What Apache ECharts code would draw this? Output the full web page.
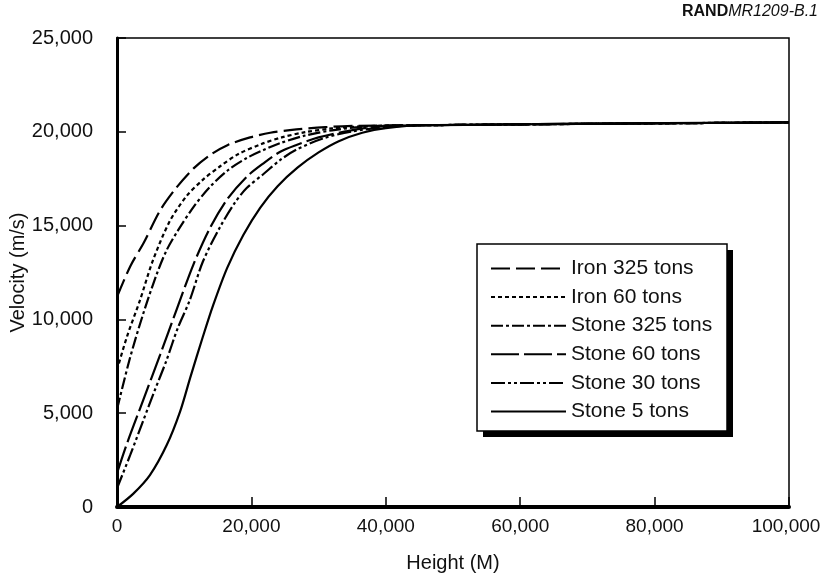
<!DOCTYPE html>
<html>
<head>
<meta charset="utf-8">
<script src="https://cdn.jsdelivr.net/npm/echarts@6/dist/echarts.min.js"></script>
<style>
  html, body { margin: 0; padding: 0; background: #fff; }
  #chart { width: 821px; height: 577px; }
</style>
</head>
<body>
<div id="chart"></div>
<script>
// Velocity vs. height for meteoroids of different composition and mass.
// Each series is a list of [height (m), velocity (m/s)] pairs.
const ironHeavy = [
  [0, 11200], [2000, 12850], [4000, 14100], [6400, 15800], [8900, 17050],
  [11400, 18050], [13800, 18750], [16500, 19300], [19800, 19700], [22800, 19950],
  [26700, 20130], [31000, 20250], [36000, 20320], [45000, 20350], [100000, 20500]
];
const ironLight = [
  [0, 7300], [1500, 9100], [3400, 11000], [5300, 13100], [7800, 15200],
  [10300, 16550], [12800, 17450], [15300, 18150], [18000, 18800], [21500, 19350],
  [24500, 19700], [28000, 19980], [32000, 20180], [37000, 20300], [45000, 20350],
  [100000, 20500]
];
const stoneHeavy = [
  [0, 5200], [1900, 7900], [3900, 10300], [5900, 12400], [7400, 13700],
  [9000, 14700], [11400, 16000], [13800, 17050], [16500, 17950], [19300, 18600],
  [21800, 19030], [24300, 19400], [28000, 19800], [32000, 20080], [37000, 20280],
  [45000, 20350], [100000, 20500]
];
const stoneMedium = [
  [0, 1800], [1500, 3400], [3900, 5700], [6400, 8100], [8900, 10550],
  [11400, 12950], [13800, 14850], [16400, 16400], [19300, 17600], [21800, 18320],
  [24300, 18940], [26700, 19300], [30000, 19700], [34000, 20020], [38000, 20250],
  [45000, 20350], [100000, 20500]
];
const stoneSmall = [
  [0, 1000], [2000, 2800], [3900, 4600], [5600, 6200], [7400, 7850],
  [9000, 9500], [10800, 11000], [12800, 13100], [15300, 14900], [17500, 16200],
  [19300, 17000], [21800, 17750], [24300, 18500], [26700, 19050], [30700, 19650],
  [35000, 20020], [40000, 20250], [46000, 20350], [100000, 20500]
];
const stoneTiny = [
  [0, 0], [2400, 700], [4900, 1700], [7400, 3300], [9400, 5100],
  [10900, 6900], [12800, 9100], [14300, 10750], [16400, 12750], [18800, 14500],
  [21300, 15950], [23900, 17100], [26900, 18100], [30000, 18900], [33000, 19500],
  [36500, 19950], [40000, 20200], [46000, 20350], [100000, 20500]
];

const seriesNames = [
  'Iron 325 tons', 'Iron 60 tons', 'Stone 325 tons',
  'Stone 60 tons', 'Stone 30 tons', 'Stone 5 tons'
];
const seriesData = [ironHeavy, ironLight, stoneHeavy, stoneMedium, stoneSmall, stoneTiny];
// dash patterns: long dash, dotted, dash-dot, longer dash, dash-dot-dot, solid
const dashPatterns = [
  [19, 6], [4, 3], [12, 3, 3, 3], [28, 5], [14, 3, 3, 3, 3, 3], 'solid'
];

const xTicks = { min: 0, max: 100000, step: 20000 };
const yTicks = { min: 0, max: 25000, step: 5000 };

const fmt = v => Number(v).toLocaleString('en-US');
// the last height label is nudged left so it stays inside the canvas
const fmtX = v => (v === xTicks.max ? '{edge|' + fmt(v) + '}' : fmt(v));
const FONT = 'Liberation Sans, Arial, Helvetica, sans-serif';
const INK = '#111';

// legend frame with a hard drop shadow
const LEG = { x: 477, y: 244, w: 250, h: 187, shadow: 6 };

const chart = echarts.init(document.getElementById('chart'), null, { renderer: 'canvas' });

chart.setOption({
  animation: false,
  backgroundColor: '#fff',
  textStyle: { fontFamily: FONT, color: INK },
  graphic: [
    {
      type: 'text',
      right: 3,
      top: 4,
      style: {
        text: '{a|RAND}{b|MR1209-B.1}',
        rich: {
          a: { fontFamily: FONT, fontSize: 16, fontWeight: 'bold', fill: INK },
          b: { fontFamily: FONT, fontSize: 16, fontStyle: 'italic', fill: INK }
        }
      }
    },
    {
      type: 'rect', z: 3,
      shape: { x: LEG.x + LEG.shadow, y: LEG.y + LEG.shadow, width: LEG.w, height: LEG.h },
      style: { fill: '#000' }
    },
    {
      type: 'rect', z: 3,
      shape: { x: LEG.x, y: LEG.y, width: LEG.w, height: LEG.h },
      style: { fill: '#fff', stroke: '#000', lineWidth: 1.5 }
    }
  ],
  grid: {
    left: 117, right: 32, top: 38, bottom: 70,
    outerBoundsMode: 'none',
    containLabel: false,
    show: true, borderColor: '#000', borderWidth: 1.5, backgroundColor: 'transparent'
  },
  legend: {
    orient: 'vertical',
    left: LEG.x, top: LEG.y,
    padding: [14, 14, 11, 13],
    itemWidth: 75, itemHeight: 20, itemGap: 7.6,
    selectedMode: false,
    itemStyle: { opacity: 0 },
    textStyle: { fontFamily: FONT, fontSize: 21, color: INK },
    data: seriesNames,
    z: 5
  },
  xAxis: {
    type: 'value',
    min: xTicks.min, max: xTicks.max, interval: xTicks.step,
    name: 'Height (M)', nameLocation: 'middle', nameGap: 46,
    nameMoveOverlap: false,
    nameTextStyle: { fontFamily: FONT, fontSize: 20, color: INK },
    axisLine: { show: true, lineStyle: { color: '#000', width: 4 } },
    axisTick: { show: true, inside: true, length: 10, lineStyle: { color: '#000', width: 1.5 } },
    axisLabel: {
      fontFamily: FONT, fontSize: 19, color: INK, margin: 10, formatter: fmtX,
      rich: { edge: { fontFamily: FONT, fontSize: 19, color: INK, padding: [0, 6, 0, 0] } }
    },
    splitLine: { show: false }
  },
  yAxis: {
    type: 'value',
    min: yTicks.min, max: yTicks.max, interval: yTicks.step,
    name: 'Velocity (m/s)', nameLocation: 'middle', nameGap: 89,
    nameMoveOverlap: false,
    nameTextStyle: { fontFamily: FONT, fontSize: 20, color: INK },
    axisLine: { show: true, lineStyle: { color: '#000', width: 3 } },
    axisTick: { show: true, inside: true, length: 9, lineStyle: { color: '#000', width: 1.5 } },
    axisLabel: { fontFamily: FONT, fontSize: 20, color: INK, margin: 24, formatter: fmt },
    splitLine: { show: false }
  },
  series: seriesNames.map((name, i) => ({
    name,
    type: 'line',
    data: seriesData[i],
    symbol: 'none',
    showSymbol: false,
    smooth: 0.3,
    lineStyle: { color: '#000', width: 2.2, type: dashPatterns[i] },
    itemStyle: { color: '#000' },
    z: 2
  }))
});
</script>
</body>
</html>
